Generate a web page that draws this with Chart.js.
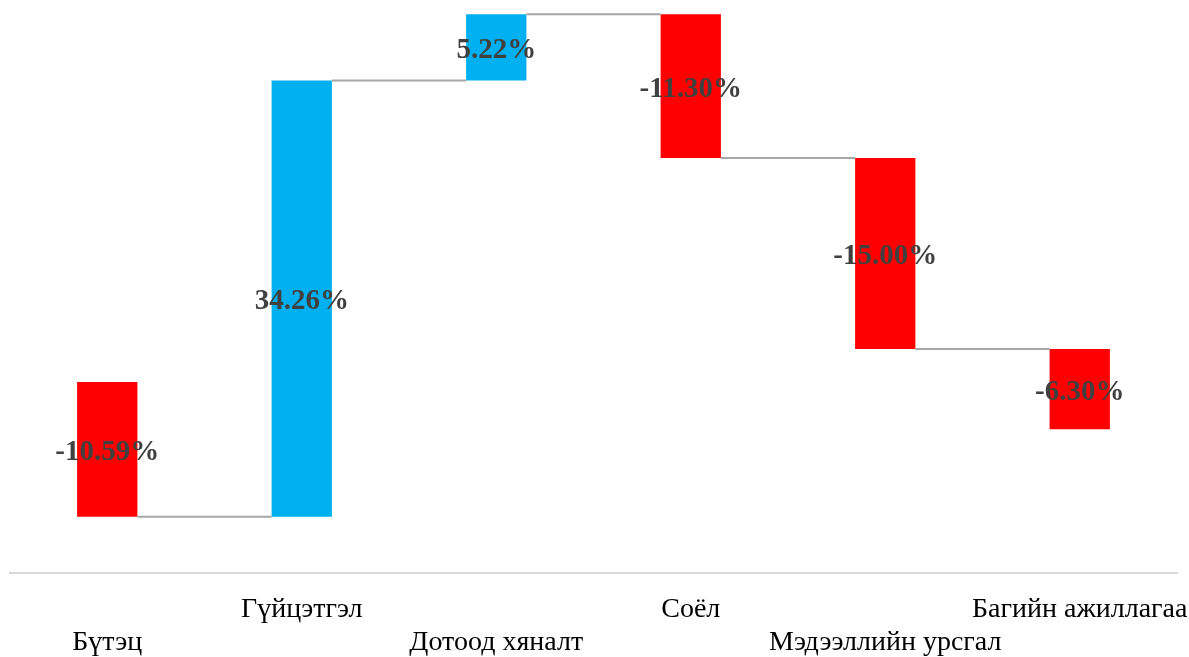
<!DOCTYPE html>
<html>
<head>
<meta charset="utf-8">
<script src="https://cdn.jsdelivr.net/npm/chart.js@4.4.1/dist/chart.umd.min.js"></script>
<style>
  html, body { margin: 0; padding: 0; background: #fff; }
  #wrap { width: 1189px; height: 657px; }
</style>
</head>
<body>
<div id="wrap"><canvas id="chart"></canvas></div>
<script>
const categories = ["Бүтэц", "Гүйцэтгэл", "Дотоод хяналт", "Соёл", "Мэдээллийн урсгал", "Багийн ажиллагаа"];
const changes = [-10.59, 34.26, 5.22, -11.30, -15.00, -6.30];
const yMin = -15;
const yMax = 30;

// waterfall: each bar floats from the running total
let running = 0;
const floating = changes.map(v => {
  const start = running;
  running += v;
  return [start, running];
});
const ends = floating.map(r => r[1]);

// staggered labels: odd ones on the second row
const tickLabels = categories.map((c, i) => i % 2 === 0 ? ["", c] : [c, ""]);

const connectors = {
  id: "connectors",
  afterDatasetsDraw(chart) {
    const ctx = chart.ctx;
    const meta = chart.getDatasetMeta(0);
    const y = chart.scales.y;
    ctx.save();
    ctx.strokeStyle = "#a6a6a6";
    ctx.lineWidth = 2;
    for (let i = 0; i < meta.data.length - 1; i++) {
      const a = meta.data[i], b = meta.data[i + 1];
      const py = y.getPixelForValue(ends[i]);
      ctx.beginPath();
      ctx.moveTo(a.x + a.width / 2, py);
      ctx.lineTo(b.x - b.width / 2, py);
      ctx.stroke();
    }
    // value labels
    ctx.font = "bold 29px 'Liberation Serif', 'Times New Roman', serif";
    ctx.fillStyle = "#404040";
    ctx.textAlign = "center";
    ctx.textBaseline = "middle";
    meta.data.forEach((bar, i) => {
      const mid = (y.getPixelForValue(floating[i][0]) + y.getPixelForValue(floating[i][1])) / 2;
      ctx.fillText(changes[i].toFixed(2) + "%", bar.x, mid + 3);
    });
    ctx.restore();
  }
};

new Chart(document.getElementById("chart"), {
  type: "bar",
  data: {
    labels: tickLabels,
    datasets: [{
      data: floating,
      backgroundColor: changes.map(v => v < 0 ? "#ff0000" : "#00b0f0"),
      borderWidth: 0,
      barPercentage: 0.62,
      categoryPercentage: 0.5
    }]
  },
  options: {
    responsive: true,
    maintainAspectRatio: false,
    animation: false,
    layout: { padding: { left: 10, right: 12, top: 0, bottom: 0 } },
    plugins: { legend: { display: false }, tooltip: { enabled: false } },
    scales: {
      y: { display: false, min: yMin, max: yMax },
      x: {
        grid: { display: false },
        border: { color: "#d9d9d9", width: 2 },
        afterFit(scale) {
          scale.height = 84;
          scale.paddingLeft = 0;
          scale.paddingRight = 0;
        },
        ticks: {
          color: "#000",
          maxRotation: 0,
          autoSkip: false,
          padding: 12,
          font: { family: "'Liberation Serif', 'Times New Roman', serif", size: 28, lineHeight: 1.18 }
        }
      }
    }
  },
  plugins: [connectors]
});
</script>
</body>
</html>
